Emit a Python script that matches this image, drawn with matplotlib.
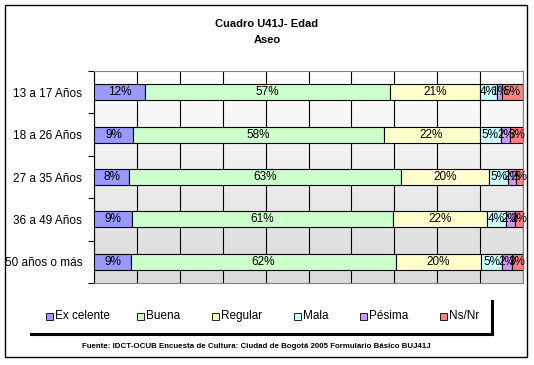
import numpy as np
import matplotlib
matplotlib.use("Agg")
import matplotlib.pyplot as plt
from matplotlib.patches import Rectangle
from matplotlib.lines import Line2D
from matplotlib.colors import LinearSegmentedColormap

plt.rcParams['font.family'] = ['Liberation Sans', 'DejaVu Sans']

categories = ["13 a 17 Años", "18 a 26 Años", "27 a 35 Años", "36 a 49 Años", "50 años o más"]
series = ["Excelente", "Buena", "Regular", "Mala", "Pésima", "Ns/Nr"]
legend_labels = ["Ex celente", "Buena", "Regular", "Mala", "Pésima", "Ns/Nr"]
excelente = [12.0, 9.2, 8.2, 8.9, 8.7]
buena = [57.0, 58.3, 63.4, 60.8, 61.6]
regular = [21.0, 22.4, 20.4, 21.9, 20.0]
mala = [4.0, 4.9, 4.6, 4.4, 4.9]
pesima = [1.0, 2.2, 1.7, 2.1, 2.2]
nsnr = [5.0, 3.0, 1.7, 1.9, 2.6]
colors = ["#9999FF", "#CCFFCC", "#FFFFCC", "#CCFFFF", "#CC99FF", "#FF8080"]

data = [excelente, buena, regular, mala, pesima, nsnr]

fig = plt.figure(figsize=(5.34, 3.65), dpi=100)
# outer frame
fig.add_artist(Rectangle((5/534, 1 - 357/365), 522/534, 352/365, transform=fig.transFigure,
                         fill=False, edgecolor='black', linewidth=1.0))

ax = fig.add_axes([94/534, 1 - 283/365, 429/534, 212/365])
# gradient background
grad = np.linspace(0, 1, 256).reshape(-1, 1)
cmap = LinearSegmentedColormap.from_list("g", ["#FFFFFF", "#DADADA"])
ax.imshow(grad, aspect='auto', cmap=cmap, extent=[0, 100, len(categories) - 0.5, -0.5], zorder=0)

y = np.arange(len(categories))
left = np.zeros(len(categories))
for vals, col in zip(data, colors):
    vals = np.array(vals)
    ax.barh(y, vals, left=left, height=0.38, color=col, edgecolor='black', linewidth=0.8, zorder=3)
    for yi, (l, v) in enumerate(zip(left, vals)):
        ax.text(l + v / 2, yi, f"{v:.0f}%", ha='center', va='center', fontsize=8.5, zorder=4)
    left += vals

ax.set_xlim(0, 100)
ax.set_ylim(len(categories) - 0.5, -0.5)
ax.set_xticks(np.arange(0, 101, 10))
ax.tick_params(axis='x', length=0, labelbottom=False)
ax.grid(axis='x', color='black', linewidth=0.8, zorder=1)
ax.set_axisbelow(True)
ax.set_yticks(y)
ax.set_yticklabels(categories, fontsize=8.5)
ax.set_yticks(np.arange(-0.5, len(categories) + 0.5, 1), minor=True)
ax.tick_params(axis='y', which='major', length=0, pad=8.5)
ax.tick_params(axis='y', which='minor', length=4, direction='out', width=0.8)
for s in ['top', 'right', 'bottom']:
    ax.spines[s].set_color('#808080')
ax.spines['left'].set_color('black')

# title
fig.text(0.5, 1 - 24/365, "Cuadro U41J- Edad", ha='center', va='center', fontsize=8, fontweight='bold')
fig.text(0.5, 1 - 40/365, "Aseo", ha='center', va='center', fontsize=8, fontweight='bold')

# legend (shadowed box: only bottom and right edges visible)
fig.add_artist(Line2D([31/534, 492/534], [1 - 334/365, 1 - 334/365], transform=fig.transFigure,
                      color='black', linewidth=2.2))
fig.add_artist(Line2D([492/534, 492/534], [1 - 301/365, 1 - 334/365], transform=fig.transFigure,
                      color='black', linewidth=2.2))
xs = [49, 140, 215, 297, 363, 443]
ly = 316
for xpos, lab, col in zip(xs, legend_labels, colors):
    fig.add_artist(Rectangle(((xpos - 3.5) / 534, 1 - (ly + 3.5) / 365), 7 / 534, 7 / 365,
                             transform=fig.transFigure, facecolor=col, edgecolor='black', linewidth=0.6))
    fig.text((xpos + 6) / 534, 1 - ly / 365, lab, ha='left', va='center', fontsize=8.5)

fig.text(256/534, 1 - 346/365,
         "Fuente: IDCT-OCUB Encuesta de Cultura: Ciudad de Bogotá 2005 Formulario Básico BUJ41J",
         ha='center', va='center', fontsize=5.7, fontweight='bold')

fig.savefig("out.png", dpi=100)
